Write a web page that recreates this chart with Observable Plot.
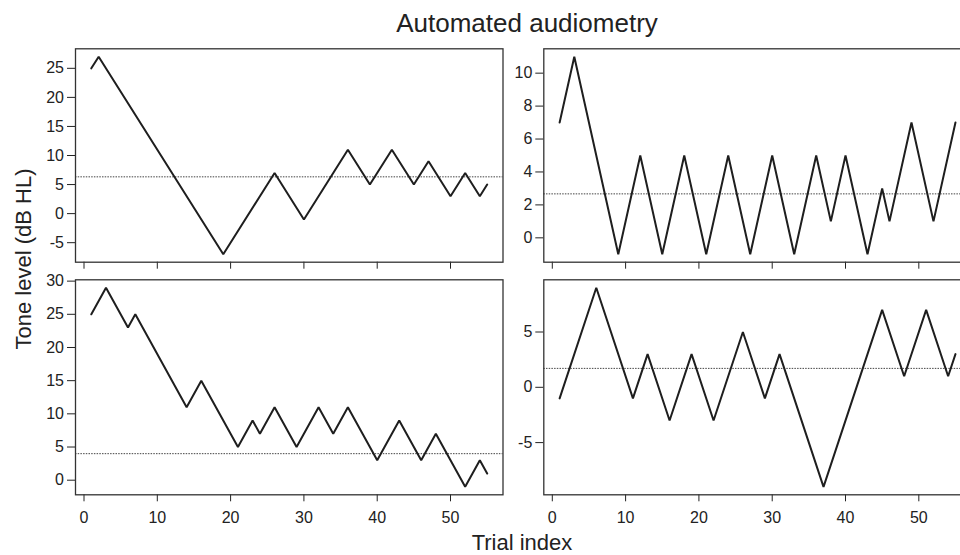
<!DOCTYPE html>
<html>
<head>
<meta charset="utf-8">
<script src="https://cdn.jsdelivr.net/npm/d3@7"></script>
<script src="https://cdn.jsdelivr.net/npm/@observablehq/plot@0.6"></script>
<style>
  html, body { margin: 0; padding: 0; background: #fff; }
  #chart { position: relative; width: 960px; height: 555px; overflow: hidden; background: #fff; }
  #chart svg.panel { position: absolute; }
  #overlay { position: absolute; left: 0; top: 0; pointer-events: none; }
</style>
</head>
<body>
<div id="chart"></div>
<script>
// ---- Data (vertices of each staircase track: trial index, tone level dB HL) ----
const tlTrials = [1, 2, 19, 26, 30, 36, 39, 42, 45, 47, 50, 52, 54, 55];
const tlLevels = [25, 27, -7, 7, -1, 11, 5, 11, 5, 9, 3, 7, 3, 5];

const trTrials = [1, 3, 9, 12, 15, 18, 21, 24, 27, 30, 33, 36, 38, 40, 43, 45, 46, 49, 52, 55];
const trLevels = [7, 11, -1, 5, -1, 5, -1, 5, -1, 5, -1, 5, 1, 5, -1, 3, 1, 7, 1, 7];

const blTrials = [1, 3, 6, 7, 14, 16, 21, 23, 24, 26, 29, 32, 34, 36, 40, 43, 46, 48, 52, 54, 55];
const blLevels = [25, 29, 23, 25, 11, 15, 5, 9, 7, 11, 5, 11, 7, 11, 3, 9, 3, 7, -1, 3, 1];

const brTrials = [1, 6, 11, 13, 16, 19, 22, 26, 29, 31, 37, 45, 48, 51, 54, 55];
const brLevels = [-1, 9, -1, 3, -3, 3, -3, 5, -1, 3, -9, 7, 1, 7, 1, 3];

// estimated thresholds (dotted lines): TL, TR, BL, BR
const thresholds = [6.33, 2.67, 4.0, 1.71];

// tick values
const xTicks = [0, 10, 20, 30, 40, 50];
const tlYTicks = [-5, 0, 5, 10, 15, 20, 25];
const trYTicks = [0, 2, 4, 6, 8, 10];
const blYTicks = [0, 5, 10, 15, 20, 25, 30];
const brYTicks = [-5, 0, 5];

// text
const titleText = "Automated audiometry";
const xLabelText = "Trial index";
const yLabelText = "Tone level (dB HL)";

// ---- Rendering ----
const FONT = "'Liberation Sans', Arial, Helvetica, sans-serif";
const chart = document.getElementById("chart");

function padded(lo, hi) {
  const r = hi - lo;
  return [lo - 0.04 * r, hi + 0.04 * r];
}
const xDomain = padded(1, 55);

function panel({trials, levels, threshold, yTicks, showXLabels, left, top, width, height, mL, mR, mT, mB}) {
  const data = trials.map((t, i) => ({trial: t, level: levels[i]}));
  const yDomain = padded(d3.min(levels), d3.max(levels));
  const svg = Plot.plot({
    width, height,
    marginLeft: mL, marginRight: mR, marginTop: mT, marginBottom: mB,
    style: {fontFamily: FONT, fontSize: "16px", color: "#222", background: "transparent", overflow: "visible"},
    x: {domain: xDomain, ticks: xTicks, tickSize: 7, tickPadding: 10,
        tickFormat: showXLabels ? (d => String(d)) : (() => ""), label: null},
    y: {domain: yDomain, ticks: yTicks, tickSize: 8, tickPadding: 3.5, tickFormat: d => String(d), label: null},
    marks: [
      Plot.ruleY([threshold], {stroke: "#444", strokeWidth: 1, strokeDasharray: "1.5,1.2"}),
      Plot.line(data, {x: "trial", y: "level", stroke: "#1e1e1e", strokeWidth: 2, strokeLinejoin: "miter"}),
      Plot.frame({stroke: "#333", strokeWidth: 1.3})
    ]
  });
  svg.classList.add("panel");
  svg.style.left = left + "px";
  svg.style.top = top + "px";
  chart.appendChild(svg);
}

// left panels: frame x 75 -> 502.5 ; right panels: frame x 543.3 -> 970.8 (cropped)
const frameW = 427.5;
// top row frame y 48.3 -> 261.7 ; bottom row 279.3 -> 494.3
panel({trials: tlTrials, levels: tlLevels, threshold: thresholds[0], yTicks: tlYTicks, showXLabels: false,
       left: 0, top: 40, width: 510, height: 240, mL: 75, mR: 510 - 75 - frameW, mT: 8.3, mB: 240 - 8.3 - 213.4});
panel({trials: trTrials, levels: trLevels, threshold: thresholds[1], yTicks: trYTicks, showXLabels: false,
       left: 500, top: 40, width: 480, height: 240, mL: 43.3, mR: 480 - 43.3 - frameW, mT: 8.3, mB: 240 - 8.3 - 213.4});
panel({trials: blTrials, levels: blLevels, threshold: thresholds[2], yTicks: blYTicks, showXLabels: true,
       left: 0, top: 270, width: 510, height: 280, mL: 75, mR: 510 - 75 - frameW, mT: 9.3, mB: 280 - 9.3 - 215});
panel({trials: brTrials, levels: brLevels, threshold: thresholds[3], yTicks: brYTicks, showXLabels: true,
       left: 500, top: 270, width: 480, height: 280, mL: 43.3, mR: 480 - 43.3 - frameW, mT: 9.3, mB: 280 - 9.3 - 215});

// overlay text: title and shared axis labels
const overlay = d3.select(chart).append("svg")
  .attr("id", "overlay").attr("width", 960).attr("height", 555)
  .style("font-family", FONT).style("fill", "#222");
overlay.append("text").attr("x", 527).attr("y", 31.5).attr("text-anchor", "middle")
  .attr("font-size", 26).text(titleText);
overlay.append("text").attr("x", 522).attr("y", 550).attr("text-anchor", "middle")
  .attr("font-size", 22).text(xLabelText);
overlay.append("text").attr("transform", "translate(31,259) rotate(-90)").attr("text-anchor", "middle")
  .attr("font-size", 22).text(yLabelText);
</script>
</body>
</html>
